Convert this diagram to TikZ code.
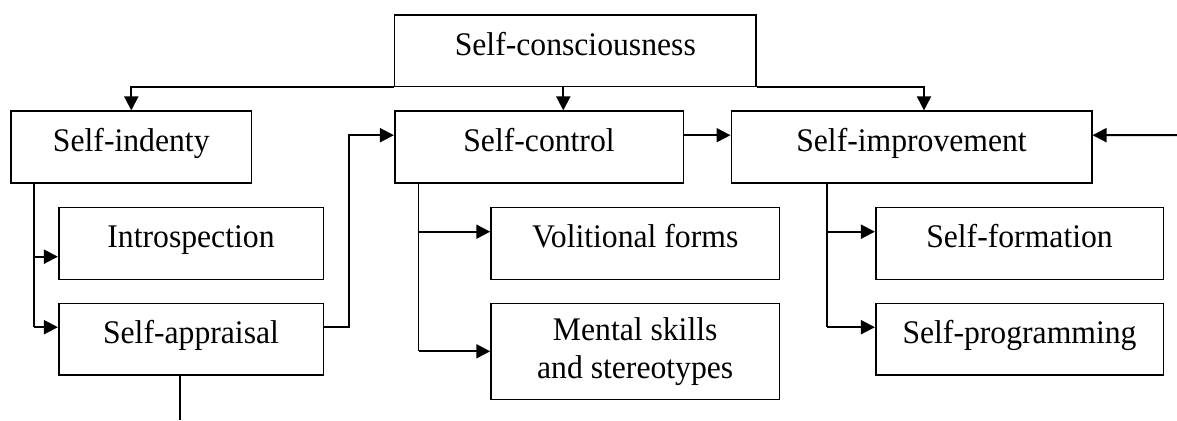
\documentclass[tikz,border=0pt]{standalone}
\usepackage{fontspec}
\setmainfont{Liberation Serif}[FakeStretch=0.96]
\usetikzlibrary{arrows.meta}
\begin{document}
\begin{tikzpicture}[x=1pt,y=-1pt,
  box/.style={draw, line width=1.6pt, minimum height=72pt, inner sep=0pt, align=center,
    font=\fontsize{33}{38.3}\selectfont},
  onel/.style={text height=23pt, text depth=14pt},
  conn/.style={line width=2pt, -{Triangle[length=14pt,width=14pt]}},
  plain/.style={line width=1.7pt}]
\useasboundingbox (0,0) rectangle (1177,420);
\node[box, onel, minimum width=361.3pt, minimum height=71.7pt] (sc) at (575.3,50.8) {Self-consciousness};
\node[box, onel, minimum width=240.7pt] (si) at (131.3,147.2) {Self-indenty};
\node[box, onel, minimum width=288.6pt] (scon) at (539,147.2) {Self-control};
\node[box, onel, minimum width=360.4pt] (simp) at (911.5,147.2) {Self-improvement};
\node[box, onel, minimum width=264.6pt] (intro) at (191,243.3) {Introspection};
\node[box, onel, minimum width=264.6pt, minimum height=71.7pt] (app) at (191,339.2) {Self-appraisal};
\node[box, onel, minimum width=288.3pt] (vol) at (635.2,243.3) {Volitional forms};
\node[box, minimum width=288.3pt, minimum height=96pt] (ment) at (635.2,351.3) {Mental skills\\and stereotypes};
\node[box, onel, minimum width=287.6pt] (form) at (1019.5,243.3) {Self-formation};
\node[box, onel, minimum width=287.6pt, minimum height=71.7pt] (prog) at (1019.5,339.2) {Self-programming};
\coordinate (ext) at (1177,135);
\coordinate (bot) at (180,420);
% top distribution
\draw[conn] (sc.south west) -| (si.north);
\draw[conn] (sc.south east) -| ([xshift=12.5pt]simp.north);
\draw[conn] ([xshift=24.3pt]scon.north |- sc.south) -- ([xshift=24.3pt]scon.north);
% self-indenty branch
\draw[plain] ([xshift=24pt]si.south west) -- ([xshift=24pt,yshift=12pt]si.south west |- app.west);
\draw[conn] ([xshift=24pt,yshift=-13.4pt]si.south west |- intro.west) -- ([yshift=-13.4pt]intro.west);
\draw[conn] ([xshift=24pt,yshift=12pt]si.south west |- app.west) -- ([yshift=12pt]app.west);
% self-appraisal to self-control
\draw[conn] ([yshift=12pt]app.east) -- ++(24.4,0) |- ([yshift=12pt]scon.west);
\draw[plain] ([xshift=-11pt]app.south) -- (bot);
% self-control to self-improvement
\draw[conn] ([yshift=12pt]scon.east) -- ([yshift=12pt]simp.west);
\draw[conn] (ext) -- ([yshift=12pt]simp.east);
% self-control branch
\draw[plain] ([xshift=24.6pt]scon.south west) -- ([xshift=24.6pt]scon.south west |- ment.west);
\draw[conn] ([xshift=24.6pt,yshift=11.6pt]scon.south west |- vol.west) -- ([yshift=11.6pt]vol.west);
\draw[conn] ([xshift=24.6pt]scon.south west |- ment.west) -- (ment.west);
% self-improvement branch
\draw[plain] ([xshift=96.2pt]simp.south west) -- ([xshift=96.2pt,yshift=12pt]simp.south west |- prog.west);
\draw[conn] ([xshift=96.2pt,yshift=11.6pt]simp.south west |- form.west) -- ([yshift=11.6pt]form.west);
\draw[conn] ([xshift=96.2pt,yshift=12pt]simp.south west |- prog.west) -- ([yshift=12pt]prog.west);
\end{tikzpicture}
\end{document}
